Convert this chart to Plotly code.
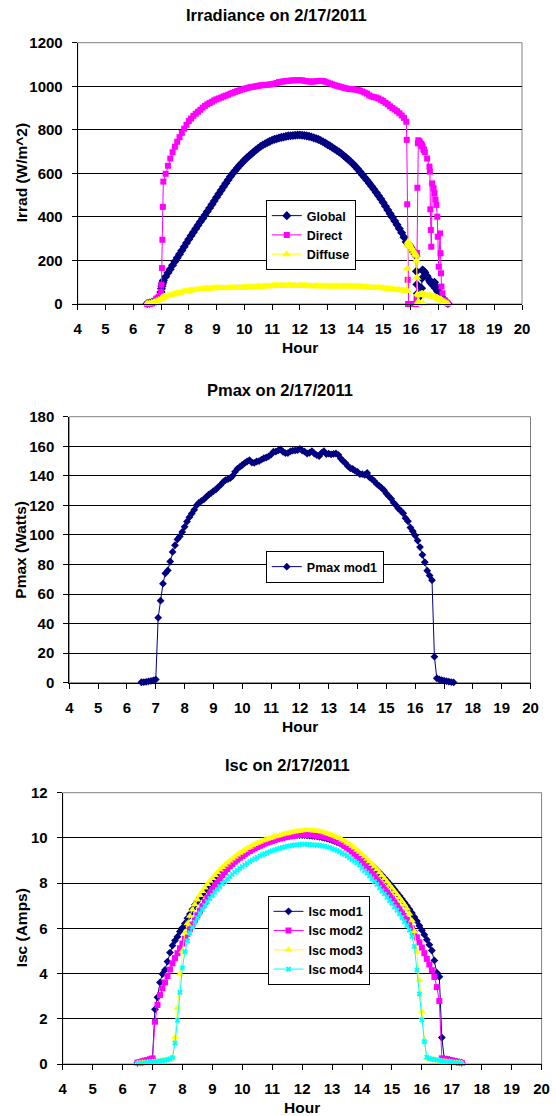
import plotly.graph_objects as go

FONT = 'Liberation Sans'
W, H = 556, 1116

# logger clock (minutes after midnight) for the Pmax / Isc readings, 5 min apart
clock_minute = [
    390, 395, 400, 405, 410, 415,
    420, 425, 430, 435, 440, 445, 450, 455, 460, 465, 470, 475,
    480, 485, 490, 495, 500, 505, 510, 515, 520, 525, 530, 535,
    540, 545, 550, 555, 560, 565, 570, 575, 580, 585, 590, 595,
    600, 605, 610, 615, 620, 625, 630, 635, 640, 645, 650, 655,
    660, 665, 670, 675, 680, 685, 690, 695, 700, 705, 710, 715,
    720, 725, 730, 735, 740, 745, 750, 755, 760, 765, 770, 775,
    780, 785, 790, 795, 800, 805, 810, 815, 820, 825, 830, 835,
    840, 845, 850, 855, 860, 865, 870, 875, 880, 885, 890, 895,
    900, 905, 910, 915, 920, 925, 930, 935, 940, 945, 950, 955,
    960, 965, 970, 975, 980, 985, 990, 995, 1000, 1005, 1010, 1015,
    1020, 1025, 1030, 1035, 1040,
]

# irradiance sensor clock (minutes), denser where the values jump
irr_minute = [
    390, 395, 400, 405, 410, 415, 420, 421, 422, 423, 424,
    425, 430, 435, 440, 445, 450, 455, 460, 465, 470, 475,
    480, 485, 490, 495, 500, 505, 510, 515, 520, 525, 530, 535,
    540, 545, 550, 555, 560, 565, 570, 575, 580, 585, 590, 595,
    600, 605, 610, 615, 620, 625, 630, 635, 640, 645, 650, 655,
    660, 665, 670, 675, 680, 685, 690, 695, 700, 705, 710, 715,
    720, 725, 730, 735, 740, 745, 750, 755, 760, 765, 770, 775,
    780, 785, 790, 795, 800, 805, 810, 815, 820, 825, 830, 835,
    840, 845, 850, 855, 860, 865, 870, 875, 880, 885, 890, 895,
    900, 905, 910, 915, 920, 925, 930, 935, 940, 945, 950,
    951, 952, 953, 954, 955, 956, 958, 960, 963, 966, 969, 971,
    972, 973, 974, 975, 976, 978, 980, 982, 983, 984, 985, 987,
    988, 990, 995, 1000, 1001, 1002, 1003, 1004, 1006, 1009, 1011, 1013,
    1015, 1017, 1018, 1020, 1023, 1024, 1025, 1026, 1028, 1033, 1036, 1040,
]

irr_global = [
    2, 4, 7, 12, 20, 32, 55, 70, 82, 92, 100,
    108, 125, 143, 160, 178, 195, 212, 229, 246, 263, 280,
    297, 314, 330, 346, 362, 378, 393, 409, 425, 441, 457, 473,
    490, 506, 522, 538, 554, 570, 585, 599, 612, 625, 637, 649,
    660, 670, 680, 689, 698, 707, 715, 723, 730, 736, 742, 747,
    752, 756, 759, 762, 765, 767, 770, 772, 773, 774, 775, 776,
    776, 775, 774, 772, 770, 767, 763, 760, 756, 751, 745, 739,
    732, 726, 719, 712, 705, 698, 690, 681, 672, 663, 653, 643,
    632, 620, 607, 594, 581, 568, 555, 541, 527, 512, 497, 482,
    466, 449, 432, 415, 398, 381, 364, 346, 327, 307, 286,
    283, 281, 279, 277, 274, 271, 265, 258, 248, 238, 228, 221,
    150, 90, 48, 40, 36, 34, 38, 45, 72, 118, 156, 152,
    150, 145, 128, 110, 106, 102, 98, 95, 90, 87, 100, 72,
    80, 62, 58, 50, 42, 38, 35, 32, 26, 14, 8, 2,
]

irr_direct = [
    0, 0, 2, 8, 25, 34, 57, 88, 165, 295, 446,
    562, 598, 635, 668, 697, 722, 745, 766, 786, 805, 823,
    840, 852, 864, 874, 883, 892, 902, 910, 917, 923, 929, 935,
    940, 944, 948, 953, 957, 961, 966, 970, 974, 978, 981, 985,
    988, 991, 994, 996, 998, 1000, 1002, 1004, 1005, 1006, 1007, 1008,
    1010, 1012, 1015, 1019, 1021, 1022, 1024, 1025, 1026, 1027, 1027, 1028,
    1028, 1027, 1025, 1023, 1022, 1021, 1022, 1023, 1024, 1025, 1024, 1021,
    1017, 1013, 1009, 1005, 1002, 999, 996, 993, 990, 988, 987, 986,
    985, 983, 980, 976, 971, 966, 958, 953, 950, 948, 944, 938,
    932, 924, 917, 908, 900, 893, 885, 876, 866, 855, 837,
    754, 458, 111, 0, 0, 0, 0, 0, 0, 0, 0, 0,
    20, 234, 534, 738, 752, 748, 742, 735, 731, 727, 722, 712,
    707, 697, 668, 631, 608, 435, 340, 263, 554, 531, 508, 480,
    455, 401, 309, 171, 324, 233, 141, 80, 49, 18, 8, 2,
]

irr_diffuse = [
    2, 4, 6, 9, 13, 18, 22, 25, 27, 29, 30,
    32, 35, 38, 41, 44, 47, 50, 52, 55, 57, 59,
    61, 63, 64, 66, 67, 68, 69, 70, 71, 71, 72, 72,
    73, 73, 73, 74, 72, 74, 75, 74, 75, 76, 75, 76,
    77, 76, 78, 77, 79, 78, 80, 79, 80, 81, 82, 81,
    83, 84, 85, 84, 86, 85, 84, 86, 85, 84, 85, 84,
    85, 84, 83, 84, 82, 83, 82, 83, 81, 82, 81, 82,
    82, 81, 80, 81, 82, 81, 80, 82, 81, 82, 81, 80,
    81, 80, 80, 79, 78, 78, 77, 76, 75, 74, 73, 73,
    72, 71, 70, 69, 68, 67, 66, 65, 63, 62, 60,
    64, 163, 270, 286, 280, 275, 268, 260, 250, 240, 230, 222,
    200, 120, 45, 0, 12, 40, 44, 45, 45, 46, 46, 0,
    43, 42, 40, 38, 38, 37, 37, 36, 35, 33, 32, 31,
    29, 27, 26, 24, 21, 20, 19, 18, 15, 9, 5, 1,
]

pmax_mod1 = [
    0.3, 0.4, 0.6, 0.9, 1.2, 1.6,
    2.2, 44.0, 55.5, 67.0, 74.0, 76.0, 82.0, 88.5, 93.0, 97.0, 99.0, 102.0,
    105.5, 109.0, 112.0, 114.5, 117.0, 120.0, 121.8, 123.0, 124.0, 125.7, 127.2, 128.3,
    129.7, 130.7, 132.4, 133.8, 135.7, 137.1, 137.7, 138.4, 140.0, 142.7, 144.8, 146.0,
    147.3, 148.6, 149.7, 150.6, 149.0, 148.8, 149.7, 150.0, 151.0, 151.9, 152.4, 153.1,
    154.4, 156.3, 156.4, 157.2, 157.8, 156.2, 155.3, 155.4, 156.5, 157.0, 157.2, 157.4,
    158.2, 157.0, 156.3, 155.1, 155.6, 156.7, 155.1, 154.0, 153.3, 155.5, 156.7, 154.7,
    155.0, 154.5, 154.8, 155.1, 154.2, 151.7, 150.0, 148.5, 146.5, 145.1, 144.6, 143.4,
    142.6, 141.1, 141.1, 140.6, 141.9, 138.9, 137.8, 136.4, 134.5, 133.2, 131.8, 130.3,
    128.0, 126.2, 124.4, 121.8, 120.0, 117.8, 116.4, 114.6, 111.3, 109.2, 105.0, 102.5,
    99.6, 96.2, 91.8, 86.5, 81.5, 75.8, 72.5, 69.4, 17.6, 3.0, 2.3, 1.8,
    1.4, 1.0, 0.7, 0.4, 0.2,
]

isc_mod1 = [
    0.05, 0.07, 0.09, 0.12, 0.15, 0.18,
    0.22, 2.42, 2.95, 3.61, 3.98, 4.16, 4.53, 4.93, 5.24, 5.46, 5.63, 5.86,
    6.03, 6.22, 6.45, 6.64, 6.84, 7.04, 7.2, 7.36, 7.52, 7.66, 7.8, 7.93,
    8.05, 8.17, 8.28, 8.39, 8.5, 8.6, 8.7, 8.8, 8.9, 8.99, 9.08, 9.17,
    9.25, 9.32, 9.39, 9.46, 9.52, 9.58, 9.64, 9.7, 9.75, 9.8, 9.85, 9.89,
    9.93, 9.96, 9.99, 10.01, 10.03, 10.05, 10.07, 10.09, 10.1, 10.11, 10.12, 10.12,
    10.12, 10.12, 10.11, 10.1, 10.09, 10.08, 10.07, 10.05, 10.03, 10.0, 9.97, 9.94,
    9.9, 9.86, 9.82, 9.77, 9.72, 9.66, 9.6, 9.54, 9.47, 9.4, 9.32, 9.24,
    9.15, 9.06, 8.97, 8.88, 8.78, 8.68, 8.57, 8.46, 8.35, 8.23, 8.11, 7.98,
    7.85, 7.72, 7.58, 7.44, 7.3, 7.15, 7.0, 6.85, 6.68, 6.5, 6.32, 6.12,
    5.92, 5.72, 5.5, 5.27, 5.02, 4.58, 4.04, 3.86, 1.17, 0.22, 0.2, 0.18,
    0.15, 0.12, 0.1, 0.07, 0.05,
]

isc_mod2 = [
    0.06, 0.09, 0.12, 0.15, 0.18, 0.21,
    0.25, 1.87, 2.61, 3.05, 3.35, 3.61, 3.89, 4.18, 4.45, 4.68, 4.9, 5.12,
    5.33, 5.54, 5.75, 5.96, 6.17, 6.38, 6.58, 6.78, 6.98, 7.17, 7.36, 7.54,
    7.72, 7.89, 8.05, 8.2, 8.35, 8.49, 8.62, 8.74, 8.85, 8.95, 9.04, 9.12,
    9.2, 9.28, 9.35, 9.42, 9.48, 9.54, 9.6, 9.65, 9.7, 9.75, 9.79, 9.83,
    9.87, 9.91, 9.94, 9.97, 10.0, 10.03, 10.05, 10.07, 10.09, 10.11, 10.13, 10.14,
    10.15, 10.15, 10.14, 10.13, 10.12, 10.11, 10.1, 10.09, 10.07, 10.05, 10.02, 9.99,
    9.95, 9.9, 9.85, 9.79, 9.72, 9.65, 9.57, 9.49, 9.4, 9.3, 9.2, 9.09,
    8.98, 8.86, 8.74, 8.61, 8.48, 8.34, 8.2, 8.06, 7.92, 7.78, 7.64, 7.5,
    7.35, 7.2, 7.04, 6.88, 6.71, 6.54, 6.37, 6.19, 6.0, 5.8, 5.6, 5.38,
    5.15, 4.9, 4.65, 4.4, 4.15, 3.85, 3.4, 2.79, 0.25, 0.22, 0.2, 0.18,
    0.16, 0.13, 0.1, 0.07, 0.05,
]

isc_mod3 = [
    0.03, 0.04, 0.05, 0.06, 0.07, 0.08,
    0.09, 0.1, 0.12, 0.14, 0.16, 0.18, 0.2, 0.23, 0.27, 1.18, 2.48, 3.98,
    5.0, 5.8, 6.22, 6.55, 6.82, 7.06, 7.27, 7.46, 7.64, 7.8, 7.95, 8.09,
    8.22, 8.35, 8.47, 8.59, 8.7, 8.8, 8.9, 8.99, 9.08, 9.17, 9.25, 9.33,
    9.4, 9.47, 9.54, 9.6, 9.66, 9.72, 9.77, 9.82, 9.87, 9.91, 9.95, 9.99,
    10.02, 10.06, 10.09, 10.12, 10.15, 10.18, 10.2, 10.23, 10.25, 10.27, 10.29, 10.31,
    10.33, 10.34, 10.34, 10.34, 10.33, 10.32, 10.31, 10.29, 10.27, 10.24, 10.2, 10.16,
    10.12, 10.08, 10.03, 9.98, 9.92, 9.86, 9.79, 9.72, 9.64, 9.56, 9.47, 9.38,
    9.28, 9.18, 9.07, 8.96, 8.84, 8.72, 8.6, 8.47, 8.34, 8.2, 8.06, 7.92,
    7.78, 7.64, 7.5, 7.35, 7.2, 7.04, 6.87, 6.65, 6.35, 5.86, 4.97, 3.72,
    2.32, 1.05, 0.25, 0.22, 0.2, 0.18, 0.16, 0.14, 0.12, 0.11, 0.1, 0.09,
    0.08, 0.06, 0.05, 0.04, 0.03,
]

isc_mod4 = [
    0.02, 0.03, 0.04, 0.05, 0.06, 0.07,
    0.08, 0.09, 0.11, 0.13, 0.15, 0.17, 0.19, 0.22, 0.28, 0.93, 1.93, 3.17,
    4.25, 4.97, 5.45, 5.8, 6.05, 6.27, 6.47, 6.66, 6.84, 7.01, 7.17, 7.32,
    7.46, 7.6, 7.73, 7.85, 7.97, 8.08, 8.19, 8.29, 8.39, 8.48, 8.57, 8.65,
    8.73, 8.81, 8.88, 8.95, 9.02, 9.08, 9.14, 9.2, 9.25, 9.3, 9.35, 9.39,
    9.43, 9.47, 9.51, 9.54, 9.57, 9.6, 9.63, 9.65, 9.67, 9.69, 9.7, 9.71,
    9.72, 9.72, 9.71, 9.71, 9.7, 9.69, 9.68, 9.67, 9.65, 9.63, 9.6, 9.57,
    9.53, 9.49, 9.44, 9.39, 9.33, 9.27, 9.2, 9.13, 9.05, 8.97, 8.89, 8.8,
    8.66, 8.55, 8.44, 8.32, 8.2, 8.07, 7.94, 7.8, 7.66, 7.52, 7.38, 7.24,
    7.1, 6.95, 6.8, 6.64, 6.48, 6.3, 6.12, 5.92, 5.65, 5.2, 4.16, 3.1,
    1.95, 0.99, 0.3, 0.25, 0.22, 0.2, 0.18, 0.16, 0.14, 0.12, 0.11, 0.1,
    0.08, 0.06, 0.05, 0.04, 0.02,
]

NAVY, MAGENTA, YELLOW, CYAN = '#000080', '#FF00FF', '#FFFF00', '#00FFFF'

clock_hour = [m / 60 for m in clock_minute]
irr_hour = [m / 60 for m in irr_minute]


def px_x(p):
    return p / W


def px_y(p):
    return 1 - p / H


# plot areas in pixels: (left, right, top, bottom)
panels = [
    (77.7, 522.0, 42.7, 304.0),
    (69.3, 530.5, 416.7, 682.7),
    (62.7, 541.6, 792.7, 1064.0),
]

tick_font = dict(family=FONT, size=15, color='black', weight='bold')
legend_font = dict(family=FONT, size=12.5, color='black', weight='bold')


def series(fig, x, y, name, color, symbol, size, n, legend):
    fig.add_trace(go.Scatter(
        x=x, y=y, name=name, mode='lines+markers',
        line=dict(color=color, width=1),
        marker=dict(color=color, symbol=symbol, size=size, line=dict(width=0)),
        xaxis='x' if n == 1 else f'x{n}', yaxis='y' if n == 1 else f'y{n}',
        legend=legend, cliponaxis=False,
    ))


fig = go.Figure()

series(fig, irr_hour, irr_global, 'Global', NAVY, 'diamond', 7, 1, 'legend')
series(fig, irr_hour, irr_direct, 'Direct', MAGENTA, 'square', 6, 1, 'legend')
series(fig, irr_hour, irr_diffuse, 'Diffuse', YELLOW, 'triangle-up', 8, 1, 'legend')

series(fig, clock_hour, pmax_mod1, 'Pmax mod1', NAVY, 'diamond', 6, 2, 'legend2')

series(fig, clock_hour, isc_mod1, 'Isc mod1', NAVY, 'diamond', 6, 3, 'legend3')
series(fig, clock_hour, isc_mod2, 'Isc mod2', MAGENTA, 'square', 6, 3, 'legend3')
series(fig, clock_hour, isc_mod3, 'Isc mod3', YELLOW, 'triangle-up', 7, 3, 'legend3')
series(fig, clock_hour, isc_mod4, 'Isc mod4', CYAN, 'x', 5, 3, 'legend3')

titles = ['Irradiance on 2/17/2011', 'Pmax on 2/17/2011', 'Isc on 2/17/2011']
title_pos = [(276, 15), (280, 390), (287, 765)]
y_titles = ['Irrad (W/m^2)', 'Pmax (Watts)', 'Isc (Amps)']
y_tops = [1200, 180, 12]
y_steps = [200, 20, 2]
hour_y = [347.7, 726.7, 1107.5]
legend_pos = [(265.8, 200), (265.8, 551), (267.5, 895.7)]

layout = dict(
    width=W, height=H,
    margin=dict(l=0, r=0, t=0, b=0),
    paper_bgcolor='white', plot_bgcolor='white',
    showlegend=True,
    font=dict(family=FONT, color='black'),
)
annotations = []
shapes = []

for i, (l, r, t, b) in enumerate(panels):
    n = i + 1
    xa = 'xaxis' if n == 1 else f'xaxis{n}'
    ya = 'yaxis' if n == 1 else f'yaxis{n}'
    xr = 'x' if n == 1 else f'x{n}'
    yr = 'y' if n == 1 else f'y{n}'
    layout[xa] = dict(
        domain=[px_x(l), px_x(r)], anchor=yr,
        range=[4, 20], tick0=4, dtick=1,
        showgrid=False, zeroline=False,
        showline=True, linecolor='black', linewidth=1,
        ticks='outside', ticklen=5, tickcolor='black', tickwidth=1,
        tickfont=tick_font, ticklabelstandoff=6, automargin=False,
    )
    layout[ya] = dict(
        domain=[px_y(b), px_y(t)], anchor=xr,
        range=[0, y_tops[i]], tick0=0, dtick=y_steps[i],
        showgrid=True, gridcolor='black', gridwidth=1, zeroline=False,
        showline=True, linecolor='black', linewidth=1,
        ticks='outside', ticklen=5, tickcolor='black', tickwidth=1,
        tickfont=tick_font, ticklabelstandoff=6, automargin=False,
    )
    shapes.append(dict(
        type='rect', xref=f'{xr} domain', yref=f'{yr} domain',
        x0=0, x1=1, y0=0, y1=1, layer='below',
        line=dict(color='#808080', width=1),
    ))
    tx, ty = title_pos[i]
    annotations.append(dict(
        text=titles[i], xref='paper', yref='paper',
        x=px_x(tx), y=px_y(ty), xanchor='center', yanchor='middle',
        showarrow=False, font=dict(family=FONT, size=16.5, color='black', weight='bold'),
    ))
    annotations.append(dict(
        text=y_titles[i], xref='paper', yref='paper', textangle=-90,
        x=px_x(21), y=px_y((t + b) / 2), xanchor='center', yanchor='middle',
        showarrow=False, font=dict(family=FONT, size=15.5, color='black', weight='bold'),
    ))
    annotations.append(dict(
        text='Hour', xref='paper', yref='paper',
        x=px_x((l + r) / 2), y=px_y(hour_y[i]), xanchor='center', yanchor='middle',
        showarrow=False, font=dict(family=FONT, size=15.5, color='black', weight='bold'),
    ))
    lx, ly = legend_pos[i]
    lg = 'legend' if n == 1 else f'legend{n}'
    layout[lg] = dict(
        x=px_x(lx), y=px_y(ly), xanchor='left', yanchor='top',
        bgcolor='white', bordercolor='black', borderwidth=1,
        font=legend_font, itemwidth=30, tracegroupgap=0,
    )

layout['annotations'] = annotations
layout['shapes'] = shapes
fig.update_layout(**layout)

# the page body would otherwise add an 8px margin around the figure
fig.write_html(
    "out.html",
    config={'displayModeBar': False},
    post_script="document.body.style.margin = '0px';",
)
